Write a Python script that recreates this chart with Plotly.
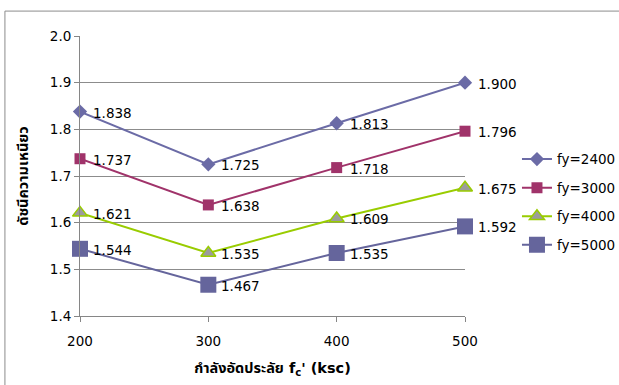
import plotly.graph_objects as go

# Concrete strength f'c (ksc)
strength = [200, 300, 400, 500]

# Ductility index per steel yield strength
fy_2400 = [1.838, 1.725, 1.813, 1.900]
fy_3000 = [1.737, 1.638, 1.718, 1.796]
fy_4000 = [1.621, 1.535, 1.609, 1.675]
fy_5000 = [1.544, 1.467, 1.535, 1.592]

series_names = ["fy=2400", "fy=3000", "fy=4000", "fy=5000"]
y_ticks = [1.4, 1.5, 1.6, 1.7, 1.8, 1.9, 2.0]

FONT = "Tahoma, DejaVu Sans, Noto Sans Thai, sans-serif"

styles = [
    dict(line="#6B6BA6", marker=dict(symbol="diamond", size=11, color="#6B6BA6")),
    dict(line="#A0336A", marker=dict(symbol="square", size=11, color="#A0336A")),
    dict(line="#99CC00", marker=dict(symbol="triangle-up", size=13, color="#9C9C9C",
                                     line=dict(color="#99CC00", width=1.5))),
    dict(line="#65659C", marker=dict(symbol="square", size=16, color="#65659C")),
]

fig = go.Figure()
annotations = []
for name, values, st in zip(series_names, [fy_2400, fy_3000, fy_4000, fy_5000], styles):
    fig.add_trace(go.Scatter(
        x=strength, y=values, name=name, legendgroup=name,
        mode="lines+markers",
        line=dict(color=st["line"], width=2),
        marker=st["marker"],
        cliponaxis=False,
    ))
    # value labels to the right of each point
    for xv, yv in zip(strength, values):
        annotations.append(dict(
            x=xv, y=yv, xref="x", yref="y", text=f"{yv:.3f}",
            showarrow=False, xanchor="left", yanchor="middle",
            xshift=11, yshift=-1,
            font=dict(family=FONT, size=13.5, color="#000000"),
        ))

# Outer chart frame
fig.add_shape(type="rect", xref="paper", yref="paper",
              x0=-0.195, y0=-0.3, x1=1.45, y1=1.089,
              line=dict(color="#8C8C8C", width=1), fillcolor="rgba(0,0,0,0)", layer="below")

fig.update_layout(
    width=619, height=385,
    margin=dict(l=80, r=154, t=36, b=69, autoexpand=False),
    paper_bgcolor="white", plot_bgcolor="white",
    font=dict(family=FONT, size=13, color="#000000"),
    showlegend=True,
    annotations=annotations,
    legend=dict(x=1.135, y=0.615, xanchor="left", yanchor="top",
                font=dict(family=FONT, size=13.5), tracegroupgap=8,
                itemwidth=30, bgcolor="rgba(0,0,0,0)"),
    xaxis=dict(
        range=[200, 500], tickvals=strength, ticktext=[str(s) for s in strength],
        showgrid=False, showline=True, linecolor="#868686", linewidth=1,
        ticks="outside", ticklen=5, tickcolor="#868686", zeroline=False,
        ticklabelstandoff=8,
        tickfont=dict(family=FONT, size=13.5),
        title=dict(text="<b>กำลังอัดประลัย f<sub>c</sub>' (ksc)</b>", standoff=14,
                   font=dict(family=FONT, size=14.5)),
    ),
    yaxis=dict(
        range=[1.4, 2.0], tickvals=y_ticks, ticktext=[f"{t:.1f}" for t in y_ticks],
        showgrid=True, gridcolor="#8C8C8C", gridwidth=1,
        showline=True, linecolor="#868686", linewidth=1,
        ticks="outside", ticklen=5, tickcolor="#868686", zeroline=False,
        tickfont=dict(family=FONT, size=13.5),
        title=dict(text="<b>ดัชนีความเหนียว</b>", standoff=17,
                   font=dict(family=FONT, size=14.5)),
    ),
)

fig.write_html("out.html")
